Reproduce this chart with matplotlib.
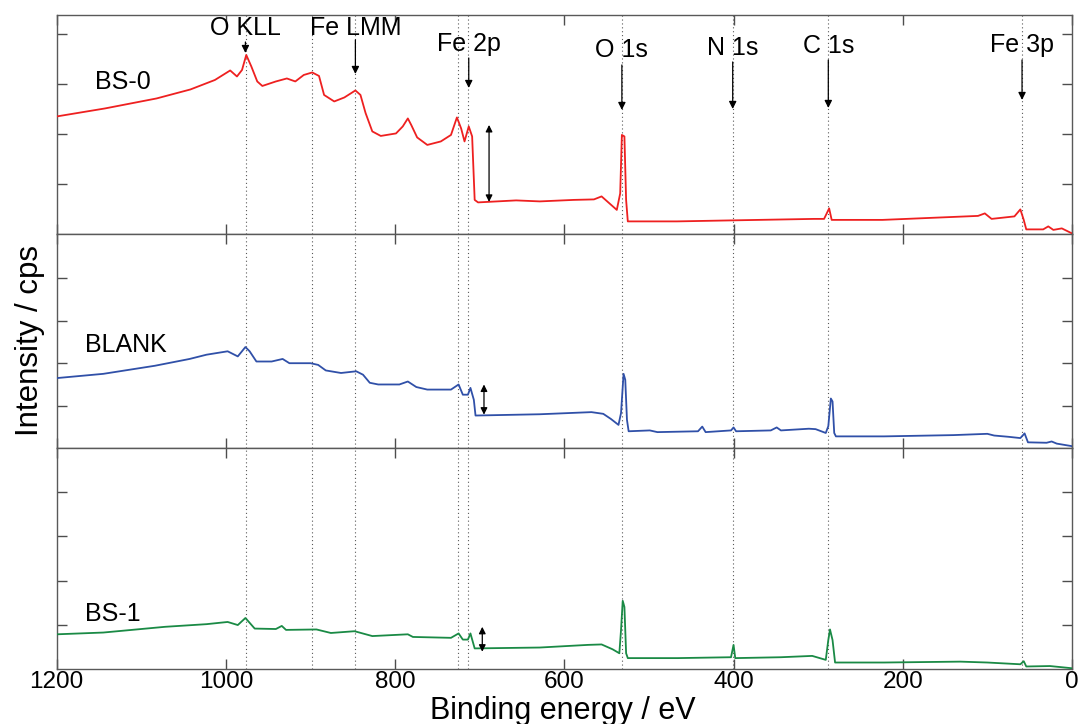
import matplotlib
matplotlib.use("Agg")
import matplotlib.pyplot as plt

plt.rcParams['font.family'] = ['Liberation Sans', 'DejaVu Sans']

# ---------------- data (eV, arbitrary intensity) ----------------
bs0_ev = [1200, 1143, 1082, 1042, 1013, 995, 987, 981, 976, 970, 963, 957, 941, 928, 918, 908, 898,
          890, 884, 872, 860, 847, 841, 835, 827, 817, 799, 791, 785, 781, 774, 762, 746, 734, 727,
          722, 718, 713, 709, 706, 702, 657, 629, 589, 565, 556, 546, 538, 534, 532, 529, 527, 525,
          467, 403, 305, 293, 287, 284, 224, 111, 103, 95, 68, 61, 57, 54, 34, 28, 22, 12, 0]
bs0_int = [2.35, 2.51, 2.71, 2.89, 3.08, 3.27, 3.15, 3.28, 3.58, 3.35, 3.05, 2.96, 3.05, 3.11, 3.05,
           3.18, 3.23, 3.16, 2.78, 2.65, 2.73, 2.87, 2.78, 2.42, 2.05, 1.96, 2.01, 2.15, 2.31, 2.18,
           1.93, 1.78, 1.85, 1.98, 2.33, 2.11, 1.85, 2.15, 1.95, 0.68, 0.63, 0.67, 0.65, 0.68, 0.69,
           0.75, 0.60, 0.48, 0.81, 1.98, 1.95, 0.68, 0.25, 0.25, 0.27, 0.30, 0.30, 0.51, 0.28, 0.28,
           0.36, 0.41, 0.30, 0.35, 0.49, 0.28, 0.09, 0.09, 0.15, 0.08, 0.11, 0.01]

blank_ev = [1200, 1145, 1084, 1043, 1023, 998, 986, 977, 972, 964, 946, 933, 925, 900, 891, 882, 864,
            846, 838, 830, 820, 795, 785, 775, 762, 734, 725, 720, 714, 711, 707, 705, 629, 568, 554,
            545, 536, 533, 530, 528, 526, 524, 499, 490, 442, 437, 433, 403, 400, 397, 356, 349, 344,
            311, 303, 291, 288, 285, 283, 281, 279, 222, 140, 100, 92, 75, 61, 56, 52, 30, 24, 18, 0]
blank_int = [1.65, 1.75, 1.94, 2.10, 2.20, 2.28, 2.16, 2.38, 2.28, 2.04, 2.04, 2.10, 2.00, 2.00, 1.96,
             1.83, 1.77, 1.81, 1.73, 1.54, 1.50, 1.50, 1.57, 1.44, 1.38, 1.38, 1.50, 1.26, 1.26, 1.42,
             1.14, 0.77, 0.80, 0.85, 0.81, 0.69, 0.55, 0.83, 1.75, 1.61, 0.67, 0.40, 0.42, 0.38, 0.40,
             0.51, 0.38, 0.42, 0.49, 0.40, 0.42, 0.49, 0.42, 0.46, 0.45, 0.36, 0.52, 1.17, 1.10, 0.36,
             0.28, 0.28, 0.31, 0.34, 0.30, 0.27, 0.24, 0.35, 0.14, 0.13, 0.16, 0.11, 0.05]

bs1_ev = [1200, 1145, 1072, 1023, 998, 986, 977, 966, 941, 934, 929, 893, 876, 848, 827, 785, 779,
          734, 725, 720, 714, 711, 706, 629, 572, 556, 543, 535, 533, 531, 529, 527, 525, 466, 403,
          400, 398, 344, 307, 291, 288, 286, 283, 280, 222, 132, 100, 61, 57, 54, 26, 0]
bs1_int = [0.78, 0.82, 0.95, 1.01, 1.06, 0.99, 1.15, 0.91, 0.90, 0.97, 0.88, 0.89, 0.81, 0.85, 0.74,
           0.78, 0.72, 0.70, 0.80, 0.66, 0.66, 0.80, 0.46, 0.48, 0.54, 0.55, 0.44, 0.35, 0.88, 1.54,
           1.40, 0.35, 0.24, 0.24, 0.26, 0.54, 0.24, 0.26, 0.29, 0.20, 0.65, 0.89, 0.65, 0.14, 0.14,
           0.16, 0.14, 0.10, 0.17, 0.05, 0.06, 0.01]

samples = ["BS-0", "BLANK", "BS-1"]
colors = ["#ee2020", "#3050a8", "#1a8a45"]

peak_lines = [976.5, 898, 847, 726, 714, 532, 401, 288, 58.6]
peak_names = ["O KLL", "Fe LMM", "Fe 2p", "O 1s", "N 1s", "C 1s", "Fe 3p"]
peak_pos = [977, 847, 713, 532, 401, 288, 59]
# (text y, arrow tail y, arrow tip y) in top-panel units
peak_y = [(4.12, 3.84, 3.62), (4.12, 3.88, 3.20), (3.80, 3.52, 2.92), (3.68, 3.38, 2.48),
          (3.72, 3.44, 2.50), (3.75, 3.48, 2.52), (3.78, 3.48, 2.68)]

# step arrows (eV, low, high) per panel
steps = [(689, 0.64, 2.18), (695, 0.79, 1.50), (697, 0.385, 0.95)]
label_pos = [(1155, 3.04), (1167, 2.43), (1167, 1.24)]
ylims = [4.38, 5.04, 5.0]

fig = plt.figure(figsize=(10.83, 7.24), dpi=100)
gs = fig.add_gridspec(3, 1, height_ratios=[219, 214.5, 220.5], hspace=0,
                      left=0.0524, right=0.9898, top=0.9793, bottom=0.0764)
axes = [fig.add_subplot(gs[i]) for i in range(3)]
series = [(bs0_ev, bs0_int), (blank_ev, blank_int), (bs1_ev, bs1_int)]

for i, ax in enumerate(axes):
    ev, inten = series[i]
    for x in peak_lines:
        ax.axvline(x, ls=(0, (1, 2.5)), color="0.35", lw=0.8, zorder=1)
    ax.plot(ev, inten, color=colors[i], lw=1.3, zorder=3)
    ax.set_xlim(1200, 0)
    ax.set_ylim(0, ylims[i])
    ax.set_yticks([1, 2, 3, 4])
    ax.set_yticklabels([])
    ax.set_xticks([1200, 1000, 800, 600, 400, 200, 0])
    ax.tick_params(direction="in", length=7, width=1, color="0.3", top=True, right=True,
                   labelsize=17.5, pad=2)
    for s in ax.spines.values():
        s.set_color("0.35")
        s.set_linewidth(1.0)
    if i < 2:
        ax.set_xticklabels([])
    ax.text(label_pos[i][0], label_pos[i][1], samples[i], fontsize=18, ha="left", va="center")
    x0, lo, hi = steps[i]
    ax.annotate("", xy=(x0, lo), xytext=(x0, hi),
                arrowprops=dict(arrowstyle="<|-|>", color="black", lw=0.9, mutation_scale=10,
                                shrinkA=0, shrinkB=0))

top = axes[0]
for name, x, (ty, ya, yb) in zip(peak_names, peak_pos, peak_y):
    top.text(x, ty, name, fontsize=18, ha="center", va="center")
    top.annotate("", xy=(x, yb), xytext=(x, ya),
                 arrowprops=dict(arrowstyle="-|>", color="black", lw=0.9, mutation_scale=11,
                                 shrinkA=0, shrinkB=0))

fig.text(30 / 1083, 1 - 340 / 724, "Intensity / cps", rotation=90, fontsize=22.5,
         ha="center", va="center")
fig.text(563 / 1083, 1 - 719 / 724, "Binding energy / eV", fontsize=22, ha="center",
         va="baseline")

fig.savefig("out.png", dpi=100)
